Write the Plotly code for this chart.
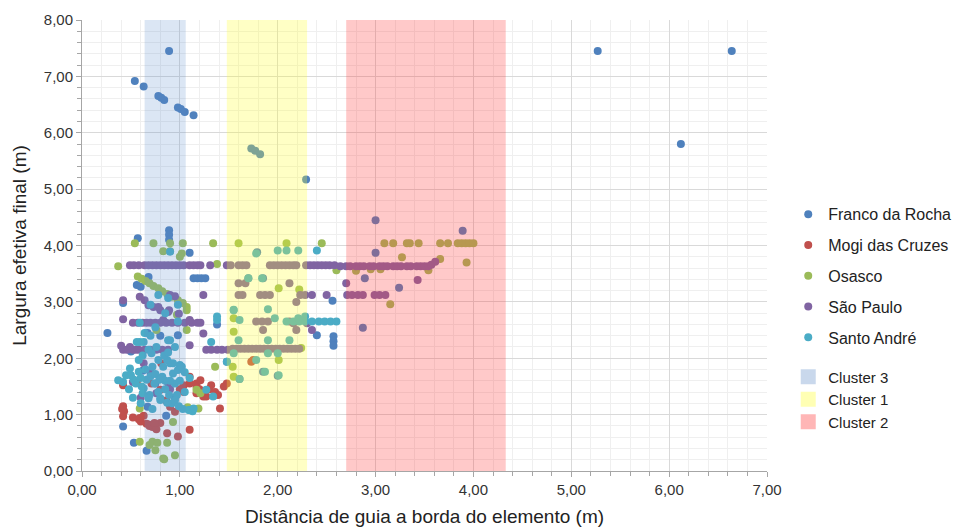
import plotly.graph_objects as go

# ---------------- data ----------------
series_names = ["Franco da Rocha", "Mogi das Cruzes", "Osasco", "São Paulo", "Santo André"]
series_colors = ["#4F81BD", "#C0504D", "#9BBB59", "#8064A2", "#4BACC6"]

franco_x = [0.89, 0.54, 0.63, 0.78, 0.81, 0.84, 0.98, 1.01, 1.05, 1.14, 5.27, 6.64, 6.12, 1.73, 1.77, 1.82, 2.29,
            0.57, 0.89, 0.89, 0.89, 1.10, 1.14, 1.18, 1.22, 1.26, 0.68, 0.56, 0.60, 0.42, 0.26, 0.50, 0.67, 0.98,
            0.42, 0.53, 0.66, 0.86, 0.67, 1.79, 1.70, 1.85, 2.56, 2.57, 2.57, 2.57, 2.40, 1.85, 2.00, 1.61, 1.48,
            3.00, 3.89, 3.00, 2.89, 3.24, 2.87, 0.62, 0.75, 0.95, 0.80, 1.38]
franco_y = [7.45, 6.92, 6.82, 6.65, 6.62, 6.58, 6.45, 6.42, 6.37, 6.31, 7.45, 7.45, 5.80, 5.72, 5.68, 5.62, 5.17,
            4.13, 4.27, 4.19, 4.10, 3.87, 3.42, 3.42, 3.42, 3.42, 3.44, 3.30, 3.27, 2.98, 2.45, 2.12, 2.45, 2.41,
            0.79, 0.50, 0.36, 0.98, 1.14, 3.88, 3.42, 3.42, 3.02, 2.39, 2.30, 2.22, 2.41, 1.76, 1.69, 1.63, 1.94,
            4.45, 4.26, 3.87, 3.42, 3.25, 2.54, 1.78, 1.55, 1.30, 2.40, 2.60]

mogi_x = [0.42, 0.43, 0.42, 0.41, 0.58, 0.60, 0.69, 0.72, 0.80, 0.87, 0.98, 1.10, 0.42, 0.71, 1.10, 1.17, 1.17,
          1.32, 1.48, 1.24, 1.39, 1.41, 1.73, 1.10, 0.81, 1.04, 1.17, 1.21, 1.27, 1.75, 0.56, 0.80, 0.90, 0.59,
          0.69, 0.76, 0.74, 0.66, 1.04, 1.00, 0.95, 1.30, 1.45, 1.36, 0.63, 0.52, 1.20, 0.86]
mogi_y = [1.15, 1.06, 0.97, 1.10, 0.92, 0.88, 0.80, 0.78, 0.85, 0.67, 0.61, 0.73, 1.52, 1.55, 1.55, 1.50, 1.55,
          1.52, 1.55, 1.32, 1.35, 1.11, 1.94, 1.67, 1.91, 1.52, 1.38, 1.61, 1.32, 1.97, 1.58, 1.44, 1.14, 0.94,
          0.82, 0.74, 0.85, 0.84, 1.40, 1.45, 1.05, 1.45, 1.50, 1.40, 0.98, 0.95, 1.45, 1.25]

osasco_x = [0.54, 0.73, 0.90, 1.03, 1.34, 1.60, 2.09, 2.45, 0.37, 1.38, 0.83, 0.90, 1.02, 1.00,
            0.57, 0.61, 0.65, 0.69, 0.73, 0.78, 0.82, 0.87, 0.92, 0.98, 1.03, 1.07, 1.07,
            0.76, 1.55, 1.55, 2.01, 2.22, 2.24, 2.01, 1.54, 1.36, 1.55, 1.17, 0.59, 0.93, 0.59, 0.69, 0.72,
            0.77, 0.87, 0.75, 0.84, 0.95, 1.19, 1.08, 1.21, 0.83, 1.07, 0.97,
            3.09, 3.18, 3.32, 3.35, 3.44, 3.66, 3.74, 3.84, 3.88, 3.92, 3.96, 4.00, 3.27, 3.66, 3.93, 3.15,
            3.54, 2.80, 2.95, 3.05, 2.60]
osasco_y = [4.04, 4.04, 4.04, 4.04, 4.04, 4.04, 4.04, 4.04, 3.63, 3.67, 3.90, 3.90, 3.86, 3.80,
            3.45, 3.41, 3.37, 3.33, 3.28, 3.24, 3.19, 3.14, 3.09, 3.03, 2.98, 2.91, 2.85,
            2.50, 2.47, 2.71, 3.24, 3.22, 2.18, 1.97, 1.85, 1.85, 1.67, 1.44, 1.11, 0.87, 0.52, 0.46, 0.52,
            0.50, 0.50, 0.37, 0.21, 0.28, 1.11, 1.13, 1.38, 0.22, 2.50, 2.77,
            4.04, 4.04, 4.04, 4.04, 4.04, 4.04, 4.04, 4.04, 4.04, 4.04, 4.04, 4.04, 3.79, 3.76, 3.70, 2.96,
            3.56, 3.55, 3.58, 3.58, 3.56]

sp_x = [0.49, 0.53, 0.58, 0.64, 0.68, 0.72, 0.76, 0.80, 0.84, 0.88, 0.92, 0.96, 1.00, 1.04, 1.10, 1.14, 1.18,
        1.21, 1.31,
        1.48, 1.52, 1.60, 1.64, 1.68, 1.92, 1.96, 2.00, 2.04, 2.08, 2.12, 2.16, 2.19, 2.29, 2.33, 2.37, 2.41,
        2.45, 2.49, 2.53, 2.58,
        2.64, 2.70, 2.74, 2.80, 2.84, 2.88, 2.94, 2.98, 3.04, 3.08, 3.12, 3.18, 3.22, 3.26, 3.32, 3.36, 3.42,
        3.46, 3.50, 3.54, 3.57, 3.61,
        0.42, 0.59, 0.64, 0.73, 0.80, 0.88, 0.83, 0.42, 0.40, 0.49, 0.55, 1.10, 1.24, 1.60, 1.64, 1.82, 1.87,
        1.92, 2.23, 2.28, 2.50, 2.35, 1.60, 1.67, 2.12, 2.19, 1.78, 1.84, 1.90, 2.12, 2.16, 2.30, 1.85, 2.19,
        2.35, 1.24, 0.90, 0.95,
        0.52, 0.57, 0.62, 0.66, 0.70, 0.75, 0.80, 0.86, 0.92, 0.98, 1.05, 1.12, 1.18, 1.21,
        0.42, 0.46, 0.52, 0.58, 0.64, 0.70, 0.76, 0.82, 0.88, 1.27, 1.32, 1.38, 1.43, 1.49,
        1.54, 1.58, 1.62, 1.66, 1.70, 1.74, 1.78, 1.82, 1.86, 1.90, 1.94, 1.98, 2.02, 2.06, 2.10, 2.14, 2.18,
        2.22,
        2.71, 2.76, 2.82, 2.87, 2.99, 3.04, 3.10, 2.70, 3.43,
        0.52, 0.63, 0.76, 0.88, 0.90, 0.70, 0.60, 0.68, 0.78, 0.89, 0.99, 1.10]
sp_y = [3.65] * 19 + [3.65] * 21 + \
       [3.63, 3.63, 3.63, 3.63, 3.63, 3.63, 3.63, 3.63, 3.63, 3.63, 3.63, 3.63, 3.63, 3.63, 3.63, 3.63, 3.63,
        3.63, 3.63, 3.63, 3.66, 3.71] + \
       [3.03, 3.09, 3.03, 2.91, 2.85, 2.82, 2.68, 2.69, 2.22, 2.20, 2.15, 2.23, 3.12, 3.12, 3.12, 3.12, 3.12,
        3.12, 3.12, 3.12, 3.12, 3.12, 3.33, 3.33, 3.33, 3.00, 2.65, 2.65, 2.65, 2.65, 2.62, 2.62, 2.50, 2.50,
        2.50, 2.44, 3.12, 3.10] + \
       [2.63] * 14 + [2.15] * 14 + [2.17] * 18 + \
       [3.12, 3.12, 3.12, 3.12, 3.12, 3.12, 3.12, 3.33, 3.39] + \
       [1.58, 1.91, 1.38, 1.56, 1.45, 1.75, 1.30, 2.94, 2.91, 2.85, 2.79, 2.68]

sa_x = [0.90, 0.78, 0.88, 0.98, 0.59, 0.98, 0.59, 0.90, 1.38, 1.32, 2.00, 2.09, 2.21, 2.40, 1.70, 1.84, 1.78,
        1.90, 1.55,
        2.09, 2.16, 2.22, 2.28, 2.35, 2.42, 2.48, 2.54, 2.60,
        1.38, 1.55, 1.61, 1.97, 2.21, 2.28, 1.60, 1.90, 2.12, 1.55, 1.78, 1.90, 2.00, 1.87, 2.01, 1.61, 1.48,
        0.42, 0.49, 0.58, 0.76, 0.68, 0.78, 0.90, 1.00, 0.93, 0.82, 0.85, 0.63, 0.69, 0.80, 0.87, 0.97, 1.10,
        1.13, 1.10, 0.88, 0.63, 0.37, 0.61, 0.62, 0.68, 0.80, 0.92, 0.98, 1.02, 0.71, 0.87, 0.93, 1.09, 1.14,
        1.27, 1.34, 0.58, 0.56, 0.45, 0.53, 0.74, 0.66, 0.95, 1.05, 0.72, 0.84, 0.64, 0.75, 0.85, 0.70,
        0.50, 0.55, 0.60, 0.65, 0.70, 0.75, 0.79, 0.85, 0.89, 0.95, 0.99, 1.03, 0.60, 0.72, 0.78, 0.83, 0.88,
        0.95, 0.70, 0.62, 0.90, 1.00, 1.05, 0.48, 0.52]
sa_y = [3.89, 3.12, 3.07, 2.95, 2.63, 2.65, 2.29, 2.32, 2.68, 2.29, 3.91, 3.91, 3.91, 3.91, 3.42, 3.42, 3.86,
        2.87, 2.86,
        2.65, 2.65, 2.65, 2.65, 2.65, 2.65, 2.65, 2.65, 2.65,
        2.74, 2.85, 2.68, 2.71, 2.71, 2.74, 2.32, 2.32, 2.32, 2.09, 1.97, 2.09, 2.09, 1.76, 1.70, 1.63, 1.94,
        1.58, 1.82, 1.76, 2.20, 2.15, 1.97, 1.91, 1.88, 1.73, 1.67, 1.60, 1.47, 1.35, 1.29, 1.21, 1.35, 1.08,
        1.06, 1.65, 2.32, 2.29, 1.61, 1.50, 1.38, 1.29, 1.26, 1.20, 1.79, 1.85, 2.09, 1.97, 1.91, 1.08, 1.11,
        1.44, 1.32, 1.97, 2.29, 1.70, 1.62, 1.55, 1.62, 1.55, 1.40, 1.85, 2.05, 2.45, 2.55, 2.80, 2.95,
        1.70, 1.55, 1.65, 1.80, 1.68, 1.72, 1.62, 1.45, 1.35, 1.25, 1.15, 1.10, 1.20, 1.10, 1.40, 1.85, 2.10,
        2.20, 2.40, 2.05, 1.60, 1.60, 1.75, 1.45, 1.30]

series_x = [franco_x, mogi_x, osasco_x, sp_x, sa_x]
series_y = [franco_y, mogi_y, osasco_y, sp_y, sa_y]

cluster_names = ["Cluster 3", "Cluster 1", "Cluster 2"]
cluster_x0 = [0.64, 1.48, 2.70]
cluster_x1 = [1.06, 2.30, 4.33]
cluster_fill = ["rgba(90,140,205,0.22)", "rgba(255,255,40,0.27)", "rgba(255,60,60,0.28)"]
cluster_legend_color = ["#C9D8EC", "#FFFFB4", "#FFB6B6"]

x_title = "Distância de guia a borda do elemento (m)"
y_title = "Largura efetiva final (m)"

# ---------------- figure ----------------
fig = go.Figure()

for i, name in enumerate(series_names):
    fig.add_trace(go.Scatter(
        x=series_x[i], y=series_y[i], mode="markers", name=name,
        legendgroup="g%d" % i,
        marker=dict(color=series_colors[i], size=8, line=dict(width=0)),
    ))

for i, name in enumerate(cluster_names):
    fig.add_shape(type="rect", xref="x", yref="y", x0=cluster_x0[i], x1=cluster_x1[i], y0=0, y1=8,
                  fillcolor=cluster_fill[i], line=dict(width=0), layer="above")
    fig.add_trace(go.Scatter(
        x=[None], y=[None], mode="markers", name=name, legend="legend2",
        marker=dict(color=cluster_legend_color[i], size=15, symbol="square", line=dict(width=0)),
    ))

axis_common = dict(
    showline=True, linecolor="#A6A6A6", linewidth=1,
    gridcolor="#D9D9D9", gridwidth=1,
    ticks="outside", ticklen=5, tickcolor="#A6A6A6",
    tickfont=dict(size=15, color="#333333", family="Liberation Sans, Arial, sans-serif"),
    zeroline=False, tickformat=".2f",
    minor=dict(dtick=0.2, showgrid=True, gridcolor="#EFEFEF", ticks="outside", ticklen=4, tickcolor="#A6A6A6"),
)

fig.update_xaxes(range=[0, 7], dtick=1, tick0=0,
                 title=dict(text=x_title, font=dict(size=19, color="#222222"), standoff=12),
                 **axis_common)
fig.update_yaxes(range=[0, 8], dtick=1, tick0=0,
                 title=dict(text=y_title, font=dict(size=19, color="#222222"), standoff=12),
                 **axis_common)

fig.update_layout(
    width=964, height=529,
    margin=dict(l=82, r=197, t=20, b=58, autoexpand=False),
    paper_bgcolor="white", plot_bgcolor="white",
    separators=",.",
    font=dict(family="Liberation Sans, Arial, sans-serif", color="#222222"),
    showlegend=True,
    legend=dict(x=1.031, y=0.607, xanchor="left", yanchor="top", tracegroupgap=7,
                font=dict(size=16, color="#222222"), bgcolor="rgba(0,0,0,0)"),
    legend2=dict(x=1.031, y=0.245, xanchor="left", yanchor="top", tracegroupgap=0,
                 font=dict(size=15, color="#222222"), bgcolor="rgba(0,0,0,0)"),
)

fig.write_html("out.html")
